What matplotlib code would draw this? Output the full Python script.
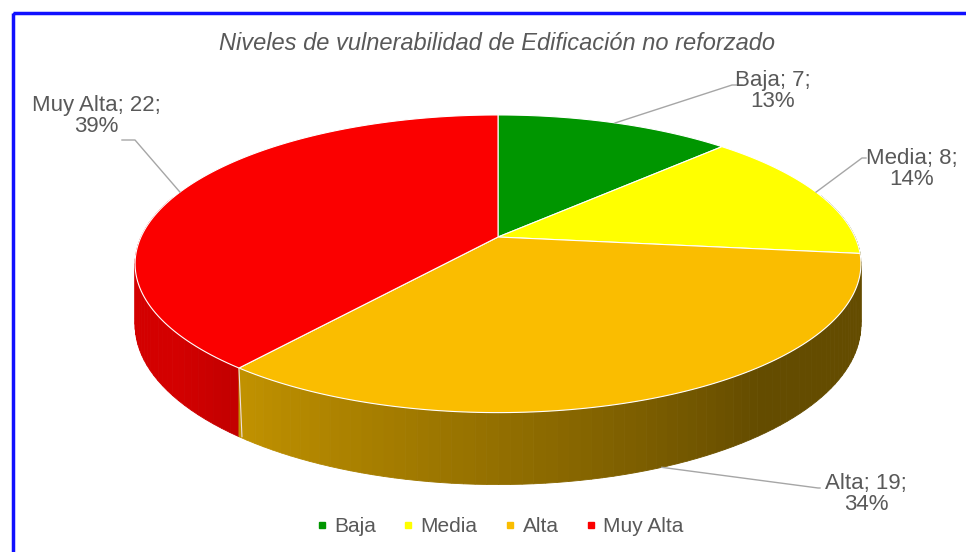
import matplotlib
matplotlib.use("Agg")
import matplotlib.pyplot as plt
import numpy as np
from matplotlib.patches import Polygon, Rectangle
from matplotlib.lines import Line2D

# datos
categorias = ["Baja", "Media", "Alta", "Muy Alta"]
valores = [7, 8, 19, 22]
colores = ["#009600", "#ffff00", "#fabd00", "#fb0000"]
titulo = "Niveles de vulnerabilidad de Edificación no reforzado"

# geometria del pastel 3D (en pixeles)
W, H = 966, 552
cx, cy = 498, 237
A, B = 357, 144
k = 0.18          # perspectiva
grosor = 59       # altura del costado
gris = "#595959"

plt.rcParams['font.family'] = ['Liberation Sans', 'DejaVu Sans']
fig = plt.figure(figsize=(9.66, 5.52), dpi=100)
ax = fig.add_axes([0, 0, 1, 1])
ax.set_xlim(0, W)
ax.set_ylim(H, 0)
ax.axis('off')


def proj(theta, d=0.0):
    # angulo en grados, sentido horario desde las 12
    t = np.radians(theta)
    u, v = np.sin(t), -np.cos(t)
    s = 1.0 / (1.0 - k * v)
    return cx + A * u * s, cy + B * v * s + d * grosor * s


def sombra(theta):
    return float(np.clip(0.42 + 0.0048 * (theta - 145), 0.40, 0.84))


total = sum(valores)
fracs = np.array(valores) / total
bordes = np.concatenate([[0], np.cumsum(fracs) * 360])

# costados
segmentos = []
for i in range(len(valores)):
    ths = np.linspace(bordes[i], bordes[i + 1], 80)
    base = np.array(matplotlib.colors.to_rgb(colores[i]))
    for a, b in zip(ths[:-1], ths[1:]):
        m = (a + b) / 2
        vm = -np.cos(np.radians(m))
        if vm < -0.3:
            continue
        pts = [proj(a), proj(b), proj(b, 1), proj(a, 1)]
        segmentos.append((vm, pts, base * sombra(m)))
segmentos.sort(key=lambda s: s[0])
for vm, pts, col in segmentos:
    ax.add_patch(Polygon(pts, closed=True, facecolor=col, edgecolor=col, lw=0.6))

# linea entre costados Alta / Muy Alta
x0, y0 = proj(bordes[3])
x1, y1 = proj(bordes[3], 1)
ax.plot([x0, x1 + 3], [y0, y1], color="#f0e0e0", lw=0.8)

# caras superiores
for i in range(len(valores)):
    ths = np.linspace(bordes[i], bordes[i + 1], 120)
    pts = [(cx, cy)] + [proj(t) for t in ths]
    ax.add_patch(Polygon(pts, closed=True, facecolor=colores[i],
                         edgecolor="#ffffff", lw=0.8))

# etiquetas con lineas guia
etiquetas = [
    # (texto x, texto y, codo, fin de linea, en costado)
    (773, 91, (732, 85), (742, 85), 0),
    (912, 169, (862, 158), (866, 158), 0),
    (866, 494, (818, 488), (820, 488), 1),
    (96, 116, (135, 140), (122, 140), 0),
]
for i, (tx, ty, codo, fin, d) in enumerate(etiquetas):
    mid = (bordes[i] + bordes[i + 1]) / 2
    px, py = proj(mid, d)
    ax.plot([px, codo[0], fin[0]], [py, codo[1], fin[1]], color="#a6a6a6", lw=1.0)
    pct = int(fracs[i] * 100 + 0.5)
    ax.text(tx, ty, f"{categorias[i]}; {valores[i]};\n{pct}%", ha="center",
            va="center", fontsize=16, color=gris, linespacing=1.0)

ax.text(497, 44, titulo, ha="center", va="center", fontsize=17,
        style="italic", color=gris)

# leyenda
handles = [Line2D([], [], marker="s", ls="", markersize=5, color=c) for c in colores]
fig.legend(handles, categorias, loc="center", bbox_to_anchor=(500 / W, 1 - 527 / H),
           ncol=4, frameon=False, handlelength=0.5, handletextpad=0.35,
           columnspacing=1.3, fontsize=15, labelcolor=gris)

# borde azul
ax.add_patch(Rectangle((13, 13), 1000, 600, fill=False, edgecolor="#1010ff", lw=2.5))

fig.savefig("out.png", dpi=100)
